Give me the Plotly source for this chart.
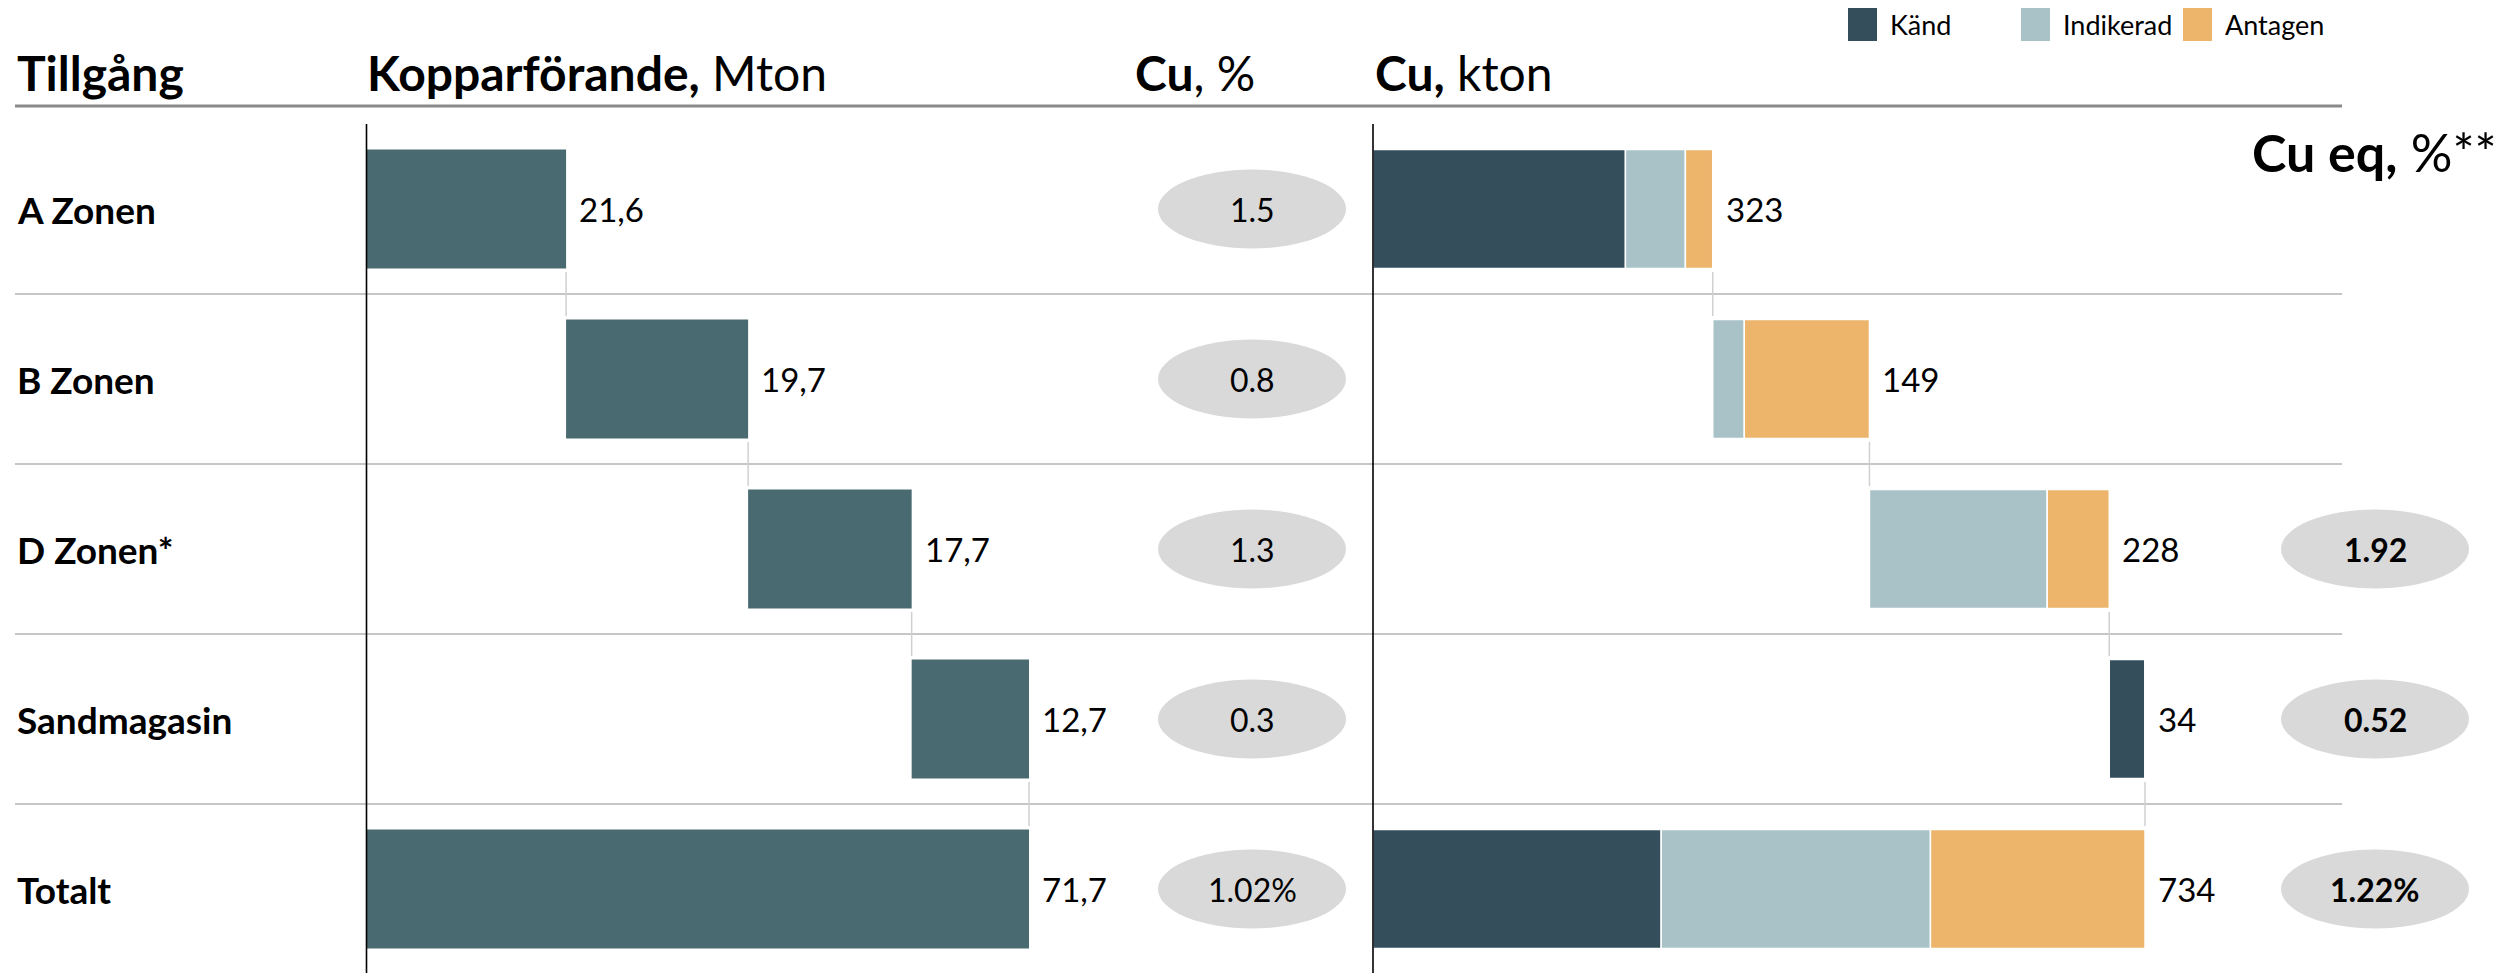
import numpy as np
import plotly.graph_objects as go

# ---------------- data ----------------
rows = ["A Zonen", "B Zonen", "D Zonen*", "Sandmagasin", "Totalt"]
mton = [21.6, 19.7, 17.7, 12.7]          # Kopparförande, Mton
cu_pct = [1.5, 0.8, 1.3, 0.3]            # Cu, %
cu_pct_total = 1.02
kand = [240, 0, 0, 34]                   # Cu, kton – Känd
indikerad = [57, 30, 169, 0]             # Cu, kton – Indikerad
antagen = [26, 119, 59, 0]               # Cu, kton – Antagen
cu_eq = [None, None, 1.92, 0.52]         # Cu eq, %**
cu_eq_total = 1.22
series_names = ["Känd", "Indikerad", "Antagen"]

# ---------------- style ----------------
W, H = 2516, 973
FONT = "Lato"
C_LEFT = "#4a6a71"
C_KAND = "#344f5b"
C_IND = "#a9c2c7"
C_ANT = "#ecb56b"
C_ELL = "#d9d9d9"

def px(x):
    return x / W

def py(y):
    return 1 - y / H

ROW0, ROWSTEP = 209, 170
L0, LSCALE = 366.5, 9.24      # px of zero, px per Mton
R0, RSCALE = 1373, 1.0518     # px of zero, px per kton

n = len(mton)
idx = list(range(n + 1))

# left waterfall
mt = np.array(mton)
mt_total = float(mt.sum())
mt_start = np.concatenate([[0], np.cumsum(mt)[:-1]])
left_x = list(mt) + [mt_total]
left_base = list(mt_start) + [0]
left_end = np.array(left_base) + np.array(left_x)

# right waterfall (stacked within row)
k = np.array(kand, float)
i_ = np.array(indikerad, float)
a = np.array(antagen, float)
row_tot = k + i_ + a
right_labels = list(row_tot) + [row_tot.sum()]
r_start = np.concatenate([[0], np.cumsum(row_tot)[:-1]])
vals = {
    "Känd": list(k) + [k.sum()],
    "Indikerad": list(i_) + [i_.sum()],
    "Antagen": list(a) + [a.sum()],
}
starts = np.array(list(r_start) + [0])
b_k = starts
b_i = b_k + np.array(vals["Känd"])
b_a = b_i + np.array(vals["Indikerad"])
bases = {"Känd": b_k, "Indikerad": b_i, "Antagen": b_a}
right_end = b_a + np.array(vals["Antagen"])
colors = {"Känd": C_KAND, "Indikerad": C_IND, "Antagen": C_ANT}

fig = go.Figure()

fig.add_trace(go.Bar(
    x=left_x, base=left_base, y=idx, orientation="h", width=0.7,
    marker=dict(color=C_LEFT, line=dict(width=0)),
    xaxis="x", yaxis="y", showlegend=False, hoverinfo="skip"))

for nm in series_names:
    fig.add_trace(go.Bar(
        x=vals[nm], base=bases[nm], y=idx, orientation="h", width=0.7,
        name=nm, marker=dict(color=colors[nm], line=dict(color="white", width=1.5)),
        xaxis="x2", yaxis="y", showlegend=False, hoverinfo="skip"))

# connectors
def connectors(ends):
    xs, ys = [], []
    for j in range(n):
        xs += [ends[j], ends[j], None]
        ys += [j + 0.37, j + 1 - 0.37, None]
    return xs, ys

cx, cy = connectors(left_end)
fig.add_trace(go.Scatter(x=cx, y=cy, mode="lines", line=dict(color="#d0d0d0", width=1.5),
                         xaxis="x", yaxis="y", showlegend=False, hoverinfo="skip"))
cx, cy = connectors(right_end)
fig.add_trace(go.Scatter(x=cx, y=cy, mode="lines", line=dict(color="#d0d0d0", width=1.5),
                         xaxis="x2", yaxis="y", showlegend=False, hoverinfo="skip"))

annotations = []
shapes = []

# row labels
for j, lab in enumerate(rows):
    annotations.append(dict(text=f"<b>{lab}</b>", x=px(15), xref="paper", y=j, yref="y",
                            xanchor="left", yanchor="middle", showarrow=False,
                            font=dict(family=FONT, size=37, color="black")))

# value labels
for j in idx:
    annotations.append(dict(text=f"{left_x[j]:.1f}".replace(".", ","), x=left_end[j], xref="x",
                            y=j, yref="y", xanchor="left", yanchor="middle", xshift=11,
                            showarrow=False, font=dict(family=FONT, size=33, color="black")))
    annotations.append(dict(text=f"{right_labels[j]:.0f}", x=right_end[j], xref="x2",
                            y=j, yref="y", xanchor="left", yanchor="middle", xshift=11,
                            showarrow=False, font=dict(family=FONT, size=33, color="black")))

# ellipses
EW, EH = 188, 79
eh = EH / ROWSTEP / 2
cu_texts = [f"{v}" for v in cu_pct] + [f"{cu_pct_total:.2f}%"]
for j, t in enumerate(cu_texts):
    shapes.append(dict(type="circle", xref="paper", yref="y", x0=px(1252 - EW / 2), x1=px(1252 + EW / 2),
                       y0=j - eh, y1=j + eh, fillcolor=C_ELL, line=dict(width=0), layer="below"))
    annotations.append(dict(text=t, x=px(1252), xref="paper", y=j, yref="y", showarrow=False,
                            xanchor="center", yanchor="middle",
                            font=dict(family=FONT, size=32, color="black")))
eq_texts = [None if v is None else f"{v:.2f}" for v in cu_eq] + [f"{cu_eq_total:.2f}%"]
for j, t in enumerate(eq_texts):
    if t is None:
        continue
    shapes.append(dict(type="circle", xref="paper", yref="y", x0=px(2375 - EW / 2), x1=px(2375 + EW / 2),
                       y0=j - eh, y1=j + eh, fillcolor=C_ELL, line=dict(width=0), layer="below"))
    annotations.append(dict(text=f"<b>{t}</b>", x=px(2375), xref="paper", y=j, yref="y", showarrow=False,
                            xanchor="center", yanchor="middle",
                            font=dict(family=FONT, size=32, color="black")))

# headers
HF = dict(family=FONT, size=48, color="black")
for txt, x in [("<b>Tillgång</b>", 15), ("<b>Kopparförande,</b> Mton", 365),
               ("<b>Cu</b>, %", 1133), ("<b>Cu,</b> kton", 1373)]:
    annotations.append(dict(text=txt, x=px(x), xref="paper", y=py(72), yref="paper",
                            xanchor="left", yanchor="middle", showarrow=False, font=HF))
annotations.append(dict(text="<b>Cu eq,</b> %**", x=px(2250), xref="paper", y=py(152), yref="paper",
                        xanchor="left", yanchor="middle", showarrow=False,
                        font=dict(family=FONT, size=52, color="black")))

# legend (manual)
for nm, x0 in zip(series_names, [1848, 2021, 2183]):
    shapes.append(dict(type="rect", xref="paper", yref="paper", x0=px(x0), x1=px(x0 + 29),
                       y0=py(41), y1=py(8), fillcolor=colors[nm], line=dict(width=0)))
    annotations.append(dict(text=nm, x=px(x0 + 40), xref="paper", y=py(25), yref="paper",
                            xanchor="left", yanchor="middle", showarrow=False,
                            font=dict(family=FONT, size=27, color="black")))

# lines
shapes.append(dict(type="line", xref="paper", yref="paper", x0=px(15), x1=px(2342),
                   y0=py(106), y1=py(106), line=dict(color="#8a8a8a", width=3)))
for j in range(n):
    shapes.append(dict(type="line", xref="paper", yref="y", x0=px(15), x1=px(2342),
                       y0=j + 0.5, y1=j + 0.5, line=dict(color="#c6c6c6", width=2), layer="below"))
for ax in ["x", "x2"]:
    shapes.append(dict(type="line", xref=ax, yref="paper", x0=0, x1=0, y0=py(124), y1=0,
                       line=dict(color="black", width=1.6), layer="above"))

hidden = dict(visible=False, showgrid=False, zeroline=False, fixedrange=True)
fig.update_layout(
    width=W, height=H, margin=dict(l=0, r=0, t=0, b=0),
    paper_bgcolor="white", plot_bgcolor="white",
    barmode="overlay", showlegend=False,
    xaxis=dict(domain=[0, 1], range=[-L0 / LSCALE, (W - L0) / LSCALE], **hidden),
    xaxis2=dict(domain=[0, 1], range=[-R0 / RSCALE, (W - R0) / RSCALE], overlaying="x", **hidden),
    yaxis=dict(domain=[0, 1], range=[(H - ROW0) / ROWSTEP, -ROW0 / ROWSTEP], **hidden),
    annotations=annotations, shapes=shapes,
)

fig.write_html("out.html", config={"displayModeBar": False},
               post_script="document.body.style.margin='0';document.body.style.overflow='hidden';")
